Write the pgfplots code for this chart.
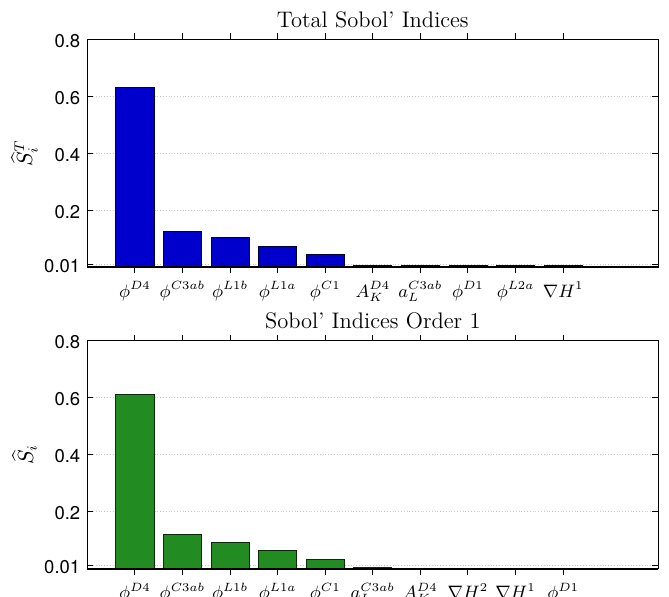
\documentclass[border=0pt]{standalone}
\usepackage{pgfplots}
\pgfplotsset{compat=1.18}
\usepackage{fontspec}
\newfontfamily\heros{TeX Gyre Heros}
\definecolor{barblue}{RGB}{0,0,204}
\definecolor{bargreen}{RGB}{34,139,34}
\pgfplotsset{
 sobol/.style={
  scale only axis, width=285.5pt, height=114pt,
  xmin=0, xmax=12, ymin=0, ymax=0.8,
  xtick={1,...,10}, ytick={0.01,0.2,0.4,0.6,0.8}, yticklabels={0.01,0.2,0.4,0.6,0.8},
  tick align=inside, tick pos=both, major tick length=3pt,
  ymajorgrids, major grid style={densely dotted, gray!40, line width=0.35pt},
  axis line style={line width=0.5pt},
  every tick/.style={black, line width=0.5pt},
  yticklabel style={font=\heros\fontsize{9.25}{10}\selectfont, yshift=-0.8pt},
  xticklabel style={font=\fontsize{9}{10}\selectfont, anchor=base, yshift=-12pt},
  every axis title shift=0pt,
  title style={font=\fontsize{11.25}{13}\selectfont, at={(axis description cs:0.5,1)}, anchor=base, yshift=6pt},
  ylabel style={font=\fontsize{10.5}{12}\selectfont, at={(axis description cs:-0.11,0.5)}, anchor=center},
  ybar, bar width=0.8,
  after end axis/.code={\draw[line width=1pt] (rel axis cs:0,0) -- (rel axis cs:1,0);},
 }
}
\begin{document}
\begin{tikzpicture}
\path[use as bounding box] (0,0) rectangle (334.5pt,-298pt);
\begin{axis}[sobol, at={(43.65pt,-19.65pt)}, anchor=north west,
  title={Total Sobol' Indices}, ylabel={$\widehat{S}_i^T$},
  xticklabels={$\phi^{D4}$,$\phi^{C3ab}$,$\phi^{L1b}$,$\phi^{L1a}$,$\phi^{C1}$,$A_K^{D4}$,$a_L^{C3ab}$,$\phi^{D1}$,$\phi^{L2a}$,$\nabla H^1$}]
\addplot[fill=barblue, draw=black!80!blue, line width=0.4pt] coordinates {
 (1,0.631) (2,0.125) (3,0.1045) (4,0.072) (5,0.0445)
 (6,0.006) (7,0.006) (8,0.006) (9,0.006) (10,0.006)};
\end{axis}
\begin{axis}[sobol, at={(43.65pt,-170.35pt)}, anchor=north west,
  title={Sobol' Indices Order 1}, ylabel={$\widehat{S}_i$},
  xticklabels={$\phi^{D4}$,$\phi^{C3ab}$,$\phi^{L1b}$,$\phi^{L1a}$,$\phi^{C1}$,$a_L^{C3ab}$,$A_K^{D4}$,$\nabla H^2$,$\nabla H^1$,$\phi^{D1}$}]
\addplot[fill=bargreen, draw=black!70!bargreen, line width=0.4pt] coordinates {
 (1,0.6105) (2,0.119) (3,0.091) (4,0.063) (5,0.0326)
 (6,0.0045) (7,0) (8,0) (9,0) (10,0)};
\end{axis}
\end{tikzpicture}
\end{document}
